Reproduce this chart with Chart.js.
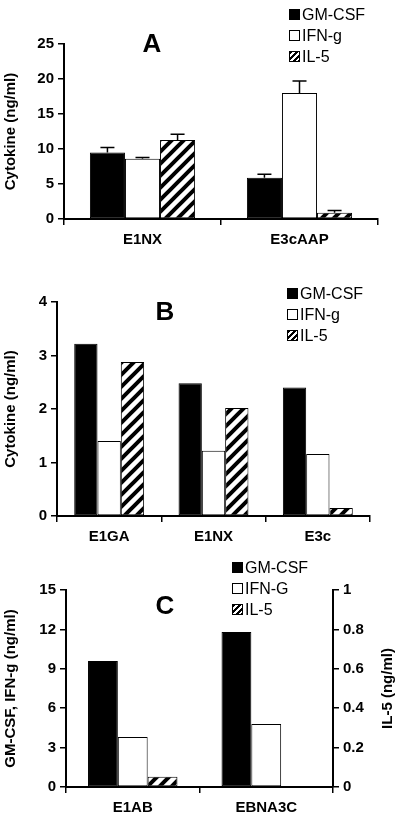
<!DOCTYPE html>
<html><head><meta charset="utf-8">
<script src="https://cdn.jsdelivr.net/npm/chart.js@4.4.0/dist/chart.umd.min.js"></script>
<style>
body{margin:0;background:#fff;width:400px;height:820px;position:relative;font-family:"Liberation Sans",Arial,sans-serif;overflow:hidden}
canvas{position:absolute;left:0}
.t{position:absolute;font-weight:bold;font-size:26px;transform:translate(-50%,-50%)}
.lg{position:absolute;font-size:16px;line-height:21px;color:#000}
.lg div{display:flex;align-items:center}
.sw{display:inline-block;width:11px;height:11px;border:1px solid #000;margin-right:2px;box-sizing:border-box}
.hat{background:repeating-linear-gradient(135deg,#000 0 2px,#fff 2px 4px)}
</style></head><body>
<canvas id="cA" style="top:0" width="400" height="260"></canvas>
<canvas id="cB" style="top:280px" width="400" height="265"></canvas>
<canvas id="cC" style="top:550px" width="400" height="270"></canvas>
<div class="t" style="left:152px;top:43px">A</div>
<div class="t" style="left:165px;top:311px">B</div>
<div class="t" style="left:165px;top:605px">C</div>
<div class="lg" style="left:289px;top:4px"><div><span class="sw" style="background:#000"></span>GM-CSF</div><div><span class="sw"></span>IFN-g</div><div><span class="sw hat"></span>IL-5</div></div>
<div class="lg" style="left:287px;top:283px"><div><span class="sw" style="background:#000"></span>GM-CSF</div><div><span class="sw"></span>IFN-g</div><div><span class="sw hat"></span>IL-5</div></div>
<div class="lg" style="left:232px;top:557px"><div><span class="sw" style="background:#000"></span>GM-CSF</div><div><span class="sw"></span>IFN-G</div><div><span class="sw hat"></span>IL-5</div></div>
<script>
// Panel A
const catsA = ["E1NX", "E3cAAP"];
const gmA = [9.5, 5.9];
const ifnA = [8.6, 18.0];
const il5A = [11.3, 0.9];
const gmErrA = [10.2, 6.4];
const ifnErrA = [8.8, 19.7];
const il5ErrA = [12.1, 1.2];
const ticksA = [0, 5, 10, 15, 20, 25];
// Panel B
const catsB = ["E1GA", "E1NX", "E3c"];
const gmB = [3.22, 2.48, 2.4];
const ifnB = [1.4, 1.22, 1.16];
const il5B = [2.88, 2.02, 0.15];
const ticksB = [0, 1, 2, 3, 4];
// Panel C
const catsC = ["E1AB", "EBNA3C"];
const gmC = [9.6, 11.8];
const ifnC = [3.8, 4.8];
const il5C = [0.052, 0.004];
const ticksCLeft = [0, 3, 6, 9, 12, 15];
const ticksCRight = [0, 0.2, 0.4, 0.6, 0.8, 1];

function hatch(){
  const c=document.createElement('canvas');c.width=12;c.height=12;
  const x=c.getContext('2d');x.fillStyle='#fff';x.fillRect(0,0,12,12);
  x.strokeStyle='#000';x.lineWidth=4;x.beginPath();
  x.moveTo(-3,3);x.lineTo(3,-3);x.moveTo(0,12);x.lineTo(12,0);x.moveTo(9,15);x.lineTo(15,9);x.stroke();
  return x.createPattern(c,'repeat');
}
const H=hatch();
const F="'Liberation Sans', Arial, sans-serif";
Chart.defaults.font.family=F;
Chart.defaults.color='#000';

function ds(label,data,bg,axis,err){
  const d={label,data,backgroundColor:bg,borderColor:'#000',borderWidth:1,borderSkipped:false,barPercentage:1,categoryPercentage:0.67};
  if(axis)d.yAxisID=axis; if(err)d.err=err; return d;
}
const errPlugin={id:'err',afterDatasetsDraw(ch){
  const x=ch.ctx;x.save();x.strokeStyle='#000';x.lineWidth=1.5;
  ch.data.datasets.forEach((d,i)=>{ if(!d.err)return;
    const m=ch.getDatasetMeta(i); const ys=ch.scales[d.yAxisID||'y'];
    m.data.forEach((b,j)=>{ const top=ys.getPixelForValue(d.data[j]); const e=ys.getPixelForValue(d.err[j]);
      x.beginPath();x.moveTo(b.x,top);x.lineTo(b.x,e);x.moveTo(b.x-7,e);x.lineTo(b.x+7,e);x.stroke();});
  });x.restore();}};

function xAxis(h){return {grid:{display:true,drawOnChartArea:false,offset:true,color:'#000',tickLength:6,lineWidth:1.5},
  border:{color:'#000',width:2},ticks:{font:{size:15,weight:'bold'},padding:6},afterFit(s){s.height=h;}};}
function yAxis(ticks,w,title,pos){return {position:pos||'left',min:ticks[0],max:ticks[ticks.length-1],
  afterBuildTicks(s){s.ticks=ticks.map(v=>({value:v}));},
  grid:{display:true,drawOnChartArea:false,color:'#000',tickLength:6,lineWidth:1.5},border:{color:'#000',width:2},
  ticks:{font:{size:15,weight:'bold'},padding:4,callback:v=>String(v)},
  title:{display:!!title,text:title,font:{size:15,weight:'bold'},padding:2},afterFit(s){s.width=w;}};}

new Chart(document.getElementById('cA'),{type:'bar',data:{labels:catsA,datasets:[
  ds('GM-CSF',gmA,'#000',null,gmErrA),ds('IFN-g',ifnA,'#fff',null,ifnErrA),ds('IL-5',il5A,H,null,il5ErrA)]},
  options:{responsive:false,animation:false,layout:{padding:{top:44,right:22,bottom:11,left:0}},
  plugins:{legend:{display:false},tooltip:{enabled:false}},
  scales:{x:xAxis(30),y:yAxis(ticksA,64,'Cytokine (ng/ml)')}},plugins:[errPlugin]});

new Chart(document.getElementById('cB'),{type:'bar',data:{labels:catsB,datasets:[
  ds('GM-CSF',gmB,'#000'),ds('IFN-g',ifnB,'#fff'),ds('IL-5',il5B,H)]},
  options:{responsive:false,animation:false,layout:{padding:{top:22,right:30,bottom:0,left:0}},
  plugins:{legend:{display:false},tooltip:{enabled:false}},
  scales:{x:xAxis(29),y:yAxis(ticksB,57,'Cytokine (ng/ml)')}}});

const rightTitle={id:'rt',afterDraw(ch){const x=ch.ctx;const a=ch.chartArea;x.save();
  x.font="bold 15px "+F;x.fillStyle='#000';x.textAlign='center';x.textBaseline='middle';
  x.translate(388,(a.top+a.bottom)/2);x.rotate(-Math.PI/2);x.fillText('IL-5 (ng/ml)',0,0);x.restore();}};
const yr=yAxis(ticksCRight,67,null,'right');
yr.ticks.callback=v=>String(Math.round(v*10)/10);
new Chart(document.getElementById('cC'),{type:'bar',data:{labels:catsC,datasets:[
  ds('GM-CSF',gmC,'#000'),ds('IFN-G',ifnC,'#fff'),ds('IL-5',il5C,H,'y1')]},
  options:{responsive:false,animation:false,layout:{padding:{top:40,right:0,bottom:4,left:0}},
  plugins:{legend:{display:false},tooltip:{enabled:false}},
  scales:{x:xAxis(29),y:yAxis(ticksCLeft,66,'GM-CSF, IFN-g (ng/ml)'),y1:yr}},plugins:[rightTitle]});
</script></body></html>
